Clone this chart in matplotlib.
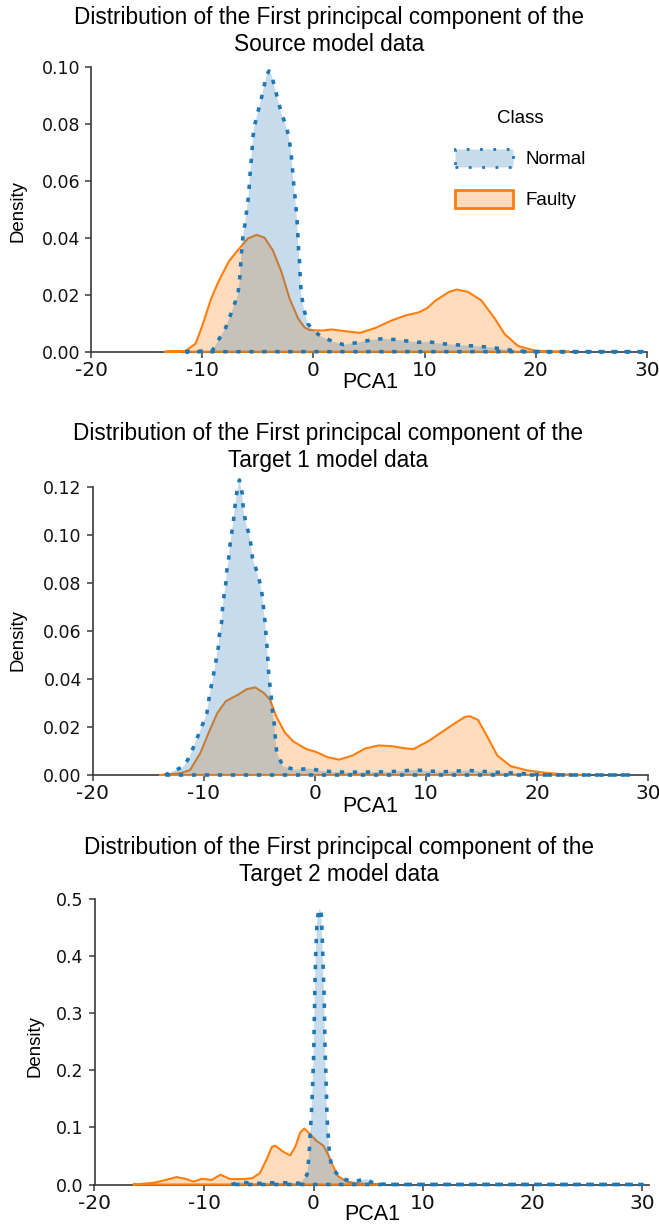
import numpy as np
import matplotlib
matplotlib.use("Agg")
import matplotlib.pyplot as plt
from matplotlib.patches import Patch
from matplotlib.colors import to_rgba

plt.rcParams["axes.unicode_minus"] = False

# ---------------- data ----------------
classes = ["Normal", "Faulty"]
titles = [
    "Distribution of the First principcal component of the\nSource model data",
    "Distribution of the First principcal component of the\nTarget 1 model data",
    "Distribution of the First principcal component of the\nTarget 2 model data",
]
x_ticks = [-20, -10, 0, 10, 20, 30]
y_ticks_src = [0.00, 0.02, 0.04, 0.06, 0.08, 0.10]
y_ticks_t1 = [0.00, 0.02, 0.04, 0.06, 0.08, 0.10, 0.12]
y_ticks_t2 = [0.0, 0.1, 0.2, 0.3, 0.4, 0.5]

# Source - Normal
src_normal_x = [-11.5, -9.1, -8.6, -7.9, -7.3, -6.8, -6.65, -6.55, -6.45, -6.33, -6.15, -6.0,
                -5.88, -5.78, -5.7, -5.6, -5.52, -5.44, -5.3, -5.0, -4.7, -4.48, -4.2, -4.0,
                -3.75, -3.5, -3.2, -2.9, -2.53, -2.23, -2.05, -1.93, -1.84, -1.75, -1.63, -1.54,
                -1.45, -1.39, -1.33, -1.24, -1.18, -1.09, -0.84, -0.48, 0.0, 0.66, 1.8, 2.7,
                4.0, 4.9, 6.0, 7.2, 8.3, 9.4, 10.4, 11.3, 12.5, 13.6, 14.8, 16.0, 17.2, 18.4,
                20.0, 30.0]
src_normal_y = [0.0, 0.0003, 0.0037, 0.0083, 0.0145, 0.020, 0.0245, 0.0303, 0.0356, 0.0405,
                0.045, 0.0495, 0.053, 0.0575, 0.062, 0.0666, 0.0705, 0.0752, 0.0792, 0.084,
                0.0885, 0.0925, 0.097, 0.0985, 0.097, 0.093, 0.0885, 0.084, 0.080, 0.0758,
                0.0711, 0.0666, 0.062, 0.0577, 0.0535, 0.0495, 0.045, 0.0405, 0.0356, 0.0313,
                0.0258, 0.0202, 0.0147, 0.0097, 0.0075, 0.0054, 0.0035, 0.0025, 0.0032, 0.0039,
                0.0045, 0.0043, 0.0038, 0.0033, 0.0035, 0.0029, 0.0025, 0.0022, 0.0019, 0.0015,
                0.0008, 0.0002, 0.0, 0.0]
# Source - Faulty
src_faulty_x = [-13.3, -11.5, -10.6, -10.0, -9.2, -8.5, -7.6, -6.8, -5.9, -5.1, -4.4, -3.65,
                -2.9, -2.14, -1.38, -0.79, -0.33, 0.72, 1.63, 2.83, 4.19, 5.55, 7.06, 8.27,
                9.47, 10.2, 11.0, 12.2, 12.9, 13.9, 15.1, 16.3, 17.2, 18.4, 19.9, 21.7, 23.0]
src_faulty_y = [0.0, 0.0003, 0.0028, 0.009, 0.0186, 0.0249, 0.0317, 0.0356, 0.0397, 0.041,
                0.040, 0.0356, 0.0283, 0.0186, 0.0117, 0.0085, 0.0076, 0.0074, 0.0078, 0.0072,
                0.0066, 0.0083, 0.011, 0.0127, 0.0138, 0.0152, 0.018, 0.021, 0.0218, 0.021,
                0.018, 0.0117, 0.0062, 0.002, 0.0004, 0.0, 0.0]

# Target 1 - Normal
t1_normal_x = [-13.5, -11.8, -11.25, -10.7, -10.2, -9.73, -9.55, -9.36, -9.1, -8.9, -8.7, -8.6,
               -8.4, -8.33, -8.2, -8.03, -7.95, -7.77, -7.65, -7.46, -7.35, -7.25, -7.05, -6.8,
               -6.55, -6.44, -6.2, -5.95, -5.76, -5.64, -5.27, -4.92, -4.73, -4.62, -4.48, -4.4,
               -4.3, -4.24, -4.17, -4.05, -3.9, -3.8, -3.67, -3.56, -3.45, -2.9, -1.8, -0.5,
               0.5, 1.87, 4.25, 6.6, 9.0, 11.4, 13.8, 16.0, 18.4, 20.5, 28.5]
t1_normal_y = [0.0, 0.0036, 0.008, 0.0143, 0.020, 0.0257, 0.0314, 0.0364, 0.0426, 0.0478,
               0.0531, 0.0584, 0.0637, 0.0689, 0.0742, 0.0795, 0.0845, 0.0902, 0.0957, 0.1018,
               0.1051, 0.110, 0.1172, 0.1228, 0.1172, 0.1101, 0.1045, 0.1004, 0.0957, 0.0907,
               0.0852, 0.0795, 0.0742, 0.0689, 0.063, 0.0577, 0.0524, 0.0478, 0.0426, 0.037,
               0.031, 0.0253, 0.0214, 0.0148, 0.0096, 0.0037, 0.0022, 0.0027, 0.0018, 0.0012,
               0.0012, 0.0013, 0.0021, 0.0013, 0.0019, 0.0012, 0.0007, 0.0, 0.0]
# Target 1 - Faulty
t1_faulty_x = [-13.9, -12.2, -11.25, -10.3, -9.55, -8.8, -8.03, -6.9, -6.14, -5.38, -4.62,
               -4.05, -3.48, -2.73, -1.99, -0.8, 0.09, 1.13, 2.17, 3.36, 4.55, 5.74, 6.92, 8.1,
               8.86, 10.2, 11.38, 12.57, 13.46, 13.9, 14.65, 15.54, 16.4, 17.6, 19.1, 20.6,
               22.6, 24.0]
t1_faulty_y = [0.0, 0.0007, 0.002, 0.0093, 0.0178, 0.0257, 0.0307, 0.0335, 0.0357, 0.0365,
               0.0342, 0.0314, 0.0243, 0.0178, 0.0141, 0.0108, 0.0096, 0.0074, 0.0064, 0.0081,
               0.0111, 0.0123, 0.012, 0.0111, 0.0108, 0.0141, 0.0178, 0.0215, 0.0241, 0.0245,
               0.023, 0.0156, 0.0081, 0.0037, 0.0019, 0.001, 0.0002, 0.0]

# Target 2 - Normal
t2_normal_x = [-7.5, -6.7, -5.0, -3.9, -2.0, -1.2, -0.6, -0.45, -0.36, -0.3, -0.21, -0.15,
               -0.09, -0.05, 0.0, 0.03, 0.06, 0.09, 0.12, 0.16, 0.21, 0.27, 0.34, 0.46, 0.57,
               0.66, 0.72, 0.76, 0.8, 0.84, 0.88, 0.91, 0.95, 0.98, 1.01, 1.03, 1.05, 1.08,
               1.12, 1.15, 1.19, 1.22, 1.28, 1.37, 1.46, 1.68, 2.44, 3.65, 4.4, 4.8, 5.3, 5.8,
               7.0, 30.0]
t2_normal_y = [0.0, 0.004, 0.002, 0.003, 0.003, 0.002, 0.017, 0.042, 0.066, 0.093, 0.117,
               0.143, 0.167, 0.192, 0.216, 0.24, 0.28, 0.30, 0.34, 0.375, 0.408, 0.435, 0.464,
               0.478, 0.483, 0.478, 0.47, 0.45, 0.43, 0.408, 0.381, 0.362, 0.343, 0.32, 0.29,
               0.266, 0.24, 0.22, 0.2, 0.177, 0.152, 0.128, 0.101, 0.077, 0.052, 0.030, 0.011,
               0.005, 0.008, 0.0095, 0.004, 0.001, 0.0, 0.0]
# Target 2 - Faulty
t2_faulty_x = [-16.4, -14.6, -13.7, -12.5, -11.6, -10.96, -10.2, -9.3, -8.5, -7.6, -6.4, -5.6,
               -4.9, -4.26, -3.8, -3.5, -2.74, -2.13, -1.67, -1.21, -0.85, -0.3, 0.3, 0.91,
               1.37, 1.83, 2.28, 3.05, 3.9, 6.0]
t2_faulty_y = [0.0, 0.003, 0.007, 0.013, 0.0095, 0.005, 0.010, 0.008, 0.017, 0.0095, 0.0095,
               0.011, 0.02, 0.045, 0.066, 0.068, 0.057, 0.051, 0.066, 0.091, 0.098, 0.088,
               0.076, 0.068, 0.051, 0.030, 0.014, 0.005, 0.002, 0.0]

# ---------------- styling / layout ----------------
W, H = 659, 1228
BLUE = "#1f77b4"
ORANGE = "#ff7f0e"
SPINE = "#3a3a3a"
TXT_FONT = ["Liberation Sans", "DejaVu Sans"]
DOTS = (0, (1.2, 2.4))

fig = plt.figure(figsize=(W / 100, H / 100), dpi=100)


def px_axes(left, right, top, bottom):
    return fig.add_axes([left / W, 1 - bottom / H, (right - left) / W, (bottom - top) / H])


def density(ax, x, y, color, ls, lw, alpha, z):
    ax.fill_between(x, y, 0, facecolor=to_rgba(color, alpha), edgecolor="none",
                    linewidth=0, zorder=z, clip_on=False)
    # outline: the curve, then back along the baseline (like the polygon edge)
    ox = list(x) + list(x[::-1]) + [x[0]]
    oy = list(y) + [0.0] * len(x) + [y[0]]
    ax.plot(ox, oy, color=color, linestyle=ls, linewidth=lw, zorder=z + 0.05,
            clip_on=False, dash_capstyle="butt", solid_joinstyle="round")


panels = [
    dict(box=(91, 647, 66.7, 351.7), xlim=(-20, 30), ylim=(0, 0.10), yt=y_ticks_src,
         ybound=(0, 0.10), xbound=(-20, 30),
         normal=(src_normal_x, src_normal_y), faulty=(src_faulty_x, src_faulty_y),
         title_xy=(329, 31), ylab_xy=(18, 211), xlab_xy=(370, 382), xlab_fs=15.5),
    dict(box=(92.7, 648.5, 474.7, 775), xlim=(-20, 30), ylim=(0, 0.125), yt=y_ticks_t1,
         ybound=(0, 0.12), xbound=(-20, 30),
         normal=(t1_normal_x, t1_normal_y), faulty=(t1_faulty_x, t1_faulty_y),
         title_xy=(328, 447), ylab_xy=(18, 640), xlab_xy=(370, 806), xlab_fs=15.5),
    dict(box=(94.5, 648.6, 899, 1184.5), xlim=(-20, 30.6), ylim=(0, 0.5), yt=y_ticks_t2,
         ybound=(0, 0.5), xbound=(-20, 30.6),
         normal=(t2_normal_x, t2_normal_y), faulty=(t2_faulty_x, t2_faulty_y),
         title_xy=(339, 861), ylab_xy=(35, 1046), xlab_xy=(372, 1215), xlab_fs=15.5),
]

axes = []
for i, p in enumerate(panels):
    ax = px_axes(*p["box"])
    axes.append(ax)
    ax.set_xlim(*p["xlim"])
    ax.set_ylim(*p["ylim"])
    ax.set_xticks(x_ticks)
    ax.set_yticks(p["yt"])
    for s in ("top", "right"):
        ax.spines[s].set_visible(False)
    for s in ("left", "bottom"):
        ax.spines[s].set_color(SPINE)
        ax.spines[s].set_linewidth(1.2)
        ax.spines[s].set_zorder(0.5)
    ax.spines["left"].set_bounds(*p["ybound"])
    ax.spines["bottom"].set_bounds(*p["xbound"])
    ax.tick_params(axis="both", length=4.3, width=1.1, color=SPINE)
    ax.tick_params(axis="x", labelsize=14.5, labelcolor="#111111", pad=2.5)
    ax.tick_params(axis="y", labelsize=12.5, labelcolor="#111111", pad=3.5)
    ax.patch.set_alpha(0)

    fx, fy = p["faulty"]
    nx, ny = p["normal"]
    density(ax, fx, fy, ORANGE, "-", 1.5, 0.27, 3)
    density(ax, nx, ny, BLUE, DOTS, 2.6, 0.25, 3.2)

    tx, ty = p["title_xy"]
    fig.text(tx / W, 1 - ty / H, titles[i], ha="center", va="center", fontsize=16.3,
             family=TXT_FONT, linespacing=1.25)
    lx, ly = p["ylab_xy"]
    fig.text(lx / W, 1 - ly / H, "Density", ha="center", va="center", rotation=90,
             fontsize=13.4, family=TXT_FONT)
    xx, xy = p["xlab_xy"]
    fig.text(xx / W, 1 - xy / H, "PCA1", ha="center", va="center", fontsize=p["xlab_fs"],
             family=TXT_FONT)

handles = [
    Patch(facecolor=to_rgba(BLUE, 0.25), edgecolor=BLUE, linestyle=(0, (1.0, 3.8)),
          linewidth=2.0),
    Patch(facecolor=to_rgba(ORANGE, 0.27), edgecolor=ORANGE, linewidth=2.0),
]
leg = axes[0].legend(handles, classes, title="Class", loc="upper left",
                     bbox_to_anchor=(455 / W, 1 - 110 / H), bbox_transform=fig.transFigure,
                     frameon=False, prop={"family": TXT_FONT, "size": 13.5},
                     handlelength=3.1, handleheight=1.1, labelspacing=1.15,
                     handletextpad=0.65, borderpad=0, borderaxespad=0)
leg.get_title().set_fontsize(13.5)
leg.get_title().set_family(TXT_FONT)

fig.savefig("out.png", dpi=100)
